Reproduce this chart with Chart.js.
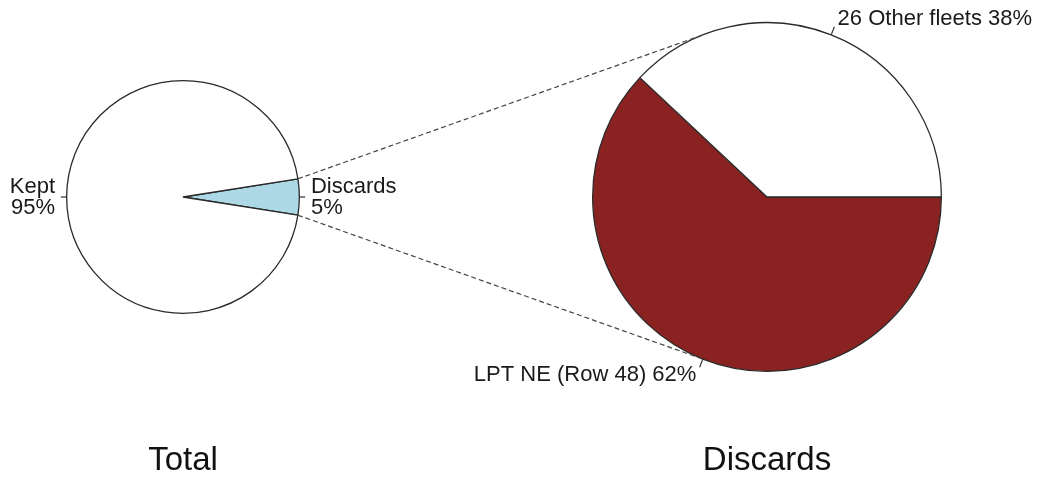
<!DOCTYPE html>
<html>
<head>
<meta charset="utf-8">
<script src="https://cdn.jsdelivr.net/npm/chart.js@4/dist/chart.umd.min.js"></script>
<style>
  html, body { margin: 0; padding: 0; background: #ffffff; }
  #wrap { position: relative; width: 1040px; height: 479px; overflow: hidden; }
  canvas { position: absolute; left: 0; top: 0; }
</style>
</head>
<body>
<div id="wrap">
  <canvas id="totalPie" width="1040" height="479"></canvas>
  <canvas id="discardPie" width="1040" height="479"></canvas>
</div>
<script>
// ---- data ----
const totalCategories = ['Discards', 'Kept'];
const totalValues = [5, 95];
const discardCategories = ['LPT NE (Row 48)', '26 Other fleets'];
const discardValues = [62, 38];
const chartTitles = ['Total', 'Discards'];

const FONT = '"Liberation Sans", Arial, Helvetica, sans-serif';

function pct(values, i) {
  const s = values.reduce((a, b) => a + b, 0);
  return Math.round(values[i] / s * 100) + '%';
}

// labels with leader ticks, drawn at slice mid-angles
const sliceLabelPlugin = {
  id: 'sliceLabels',
  afterDraw(chart, args, opts) {
    const ctx = chart.ctx;
    const meta = chart.getDatasetMeta(0);
    const cats = opts.categories, vals = opts.values;
    ctx.save();
    meta.data.forEach((arc, i) => {
      const mid = (arc.startAngle + arc.endAngle) / 2;
      const r = arc.outerRadius;
      const c = Math.cos(mid), s = Math.sin(mid);
      ctx.strokeStyle = '#333';
      ctx.lineWidth = 1.2;
      ctx.setLineDash([]);
      ctx.beginPath();
      ctx.moveTo(arc.x + c * r, arc.y + s * r);
      ctx.lineTo(arc.x + c * r * 1.05, arc.y + s * r * 1.05);
      ctx.stroke();
      const tx = arc.x + c * r * 1.1, ty = arc.y + s * r * 1.1;
      ctx.fillStyle = '#1a1a1a';
      ctx.font = '22px ' + FONT;
      ctx.textAlign = c > 0 ? 'left' : 'right';
      ctx.textBaseline = 'middle';
      const lines = opts.multiline ? [cats[i], pct(vals, i)] : [cats[i] + ' ' + pct(vals, i)];
      const lh = 21;
      lines.forEach((t, k) => {
        ctx.fillText(t, tx, ty + (k - (lines.length - 1) / 2) * lh);
      });
    });
    // title under pie
    const a0 = meta.data[0];
    ctx.font = '33px ' + FONT;
    ctx.textAlign = 'center';
    ctx.textBaseline = 'middle';
    ctx.fillStyle = '#111';
    ctx.fillText(opts.title, a0.x, 461);
    ctx.restore();
  }
};

const baseOpts = {
  responsive: false,
  animation: false,
  events: [],
  plugins: { legend: { display: false }, tooltip: { enabled: false }, title: { display: false } }
};

const totalChart = new Chart(document.getElementById('totalPie'), {
  type: 'pie',
  data: {
    labels: totalCategories,
    datasets: [{
      data: totalValues,
      backgroundColor: ['#add8e6', '#ffffff'],
      borderColor: '#2a2a2a',
      borderWidth: 1.3
    }]
  },
  options: Object.assign({}, baseOpts, {
    rotation: 81,
    layout: { padding: { left: 66, right: 740, top: 80, bottom: 165 } },
    plugins: Object.assign({}, baseOpts.plugins, {
      sliceLabels: { categories: totalCategories, values: totalValues, multiline: true, title: chartTitles[0] }
    })
  }),
  plugins: [sliceLabelPlugin]
});

// dashed connectors from the discards slice to the discards pie
const connectorPlugin = {
  id: 'connectors',
  afterDraw(chart) {
    const ctx = chart.ctx;
    const src = totalChart.getDatasetMeta(0).data[0];
    const dst = chart.getDatasetMeta(0).data[0];
    const ang = 112 * Math.PI / 180;
    ctx.save();
    ctx.strokeStyle = '#444';
    ctx.lineWidth = 1.2;
    ctx.setLineDash([5, 3]);
    [[src.startAngle, -ang], [src.endAngle, ang]].forEach(([a, b]) => {
      ctx.beginPath();
      ctx.moveTo(src.x + Math.cos(a) * src.outerRadius, src.y + Math.sin(a) * src.outerRadius);
      ctx.lineTo(dst.x + Math.cos(b) * dst.outerRadius, dst.y + Math.sin(b) * dst.outerRadius);
      ctx.stroke();
    });
    ctx.restore();
  }
};

new Chart(document.getElementById('discardPie'), {
  type: 'pie',
  data: {
    labels: discardCategories,
    datasets: [{
      data: discardValues,
      backgroundColor: ['#8b2222', '#ffffff'],
      borderColor: '#2a2a2a',
      borderWidth: 1.3
    }]
  },
  options: Object.assign({}, baseOpts, {
    rotation: 90,
    layout: { padding: { left: 592, right: 98, top: 22, bottom: 107 } },
    plugins: Object.assign({}, baseOpts.plugins, {
      sliceLabels: { categories: discardCategories, values: discardValues, multiline: false, title: chartTitles[1] }
    })
  }),
  plugins: [connectorPlugin, sliceLabelPlugin]
});
</script>
</body>
</html>
